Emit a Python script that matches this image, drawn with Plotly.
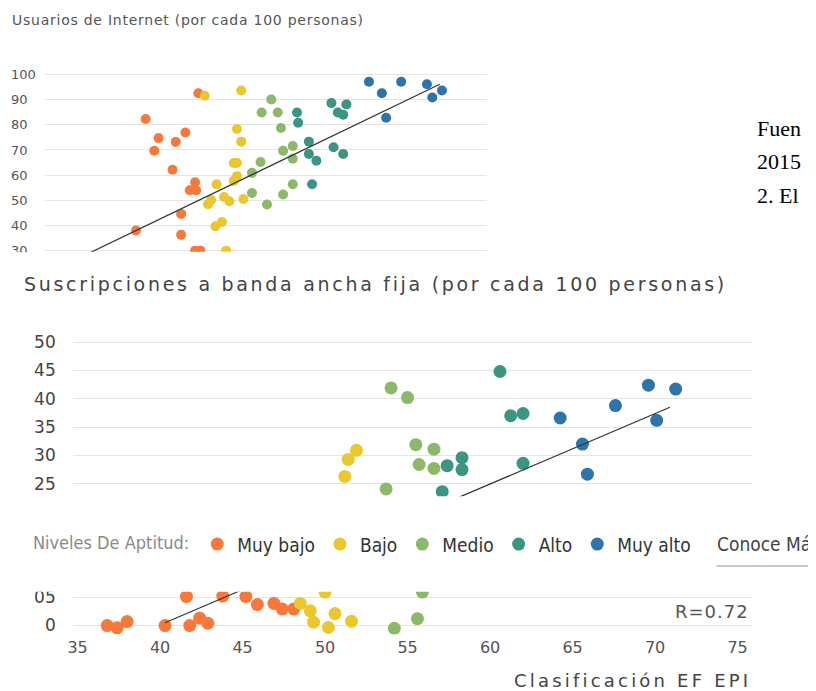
import plotly.graph_objects as go

# page is 816x691; the html body has an 8px margin, so the figure is 808x683
PAGE_W, PAGE_H = 816, 691
OFF = 8
W, H = PAGE_W - OFF, PAGE_H - OFF

levels = ["Muy bajo", "Bajo", "Medio", "Alto", "Muy alto"]
colors = ["#F7783B", "#EAC72E", "#8CB86A", "#3C9483", "#2D74AD"]

# ---- Chart 1: Usuarios de Internet (por cada 100 personas) ----
inet_muybajo_x = [49.0, 44.1, 45.3, 44.9, 46.9, 47.8, 46.6, 48.7, 48.2, 48.8, 47.4, 43.2, 47.4, 48.7, 49.2]
inet_muybajo_y = [92.5, 82.3, 74.7, 69.7, 73.2, 76.9, 62.1, 57.2, 54.0, 54.0, 44.6, 38.0, 36.3, 30.0, 30.0]
inet_bajo_x = [49.6, 53.0, 52.6, 53.0, 52.3, 52.6, 52.6, 52.3, 50.7, 50.2, 49.9, 51.4, 51.9, 53.2, 51.2, 50.6, 51.6]
inet_bajo_y = [91.5, 93.6, 78.3, 73.3, 64.8, 64.8, 59.6, 57.7, 56.4, 50.1, 48.4, 51.3, 49.6, 50.5, 41.4, 39.7, 30.0]
inet_medio_x = [55.8, 54.9, 56.4, 56.7, 56.9, 57.8, 57.8, 54.8, 54.0, 54.0, 57.8, 56.9, 55.4]
inet_medio_y = [90.0, 84.9, 84.9, 78.7, 69.7, 71.6, 66.5, 65.2, 60.9, 52.9, 56.4, 52.3, 48.3]
inet_alto_x = [58.2, 58.3, 61.4, 62.8, 62.0, 62.5, 59.3, 59.3, 60.0, 61.6, 62.5, 59.6]
inet_alto_y = [84.9, 80.8, 88.6, 88.1, 84.9, 84.0, 73.3, 68.4, 65.7, 71.1, 68.4, 56.4]
inet_muyalto_x = [64.9, 67.9, 70.3, 66.1, 70.8, 71.7, 66.5]
inet_muyalto_y = [97.1, 97.1, 96.1, 92.5, 90.8, 93.6, 82.8]
inet_trend_x = [36.0, 71.5]
inet_trend_y = [23.2, 96.1]
inet_ticks = [30, 40, 50, 60, 70, 80, 90, 100]

# ---- Chart 2: Suscripciones a banda ancha fija (por cada 100 personas) ----
bb_muybajo_x = [36.8, 37.4, 38.0, 40.3, 41.8, 42.4, 42.9, 41.6, 43.8, 45.2, 45.9, 46.9, 47.4, 48.1]
bb_muybajo_y = [0.0, -0.4, 0.7, 0.0, 0.0, 1.3, 0.4, 5.1, 5.2, 5.1, 3.7, 3.9, 2.9, 2.9]
bb_bajo_x = [48.5, 49.1, 49.3, 50.2, 50.6, 51.6, 50.0, 51.9, 51.4, 51.2]
bb_bajo_y = [3.9, 2.6, 0.6, -0.35, 2.1, 0.75, 5.9, 30.9, 29.3, 26.3]
bb_medio_x = [54.2, 55.6, 55.9, 54.0, 55.0, 55.5, 56.6, 55.7, 56.6, 53.7]
bb_medio_y = [-0.5, 1.2, 5.9, 41.9, 40.2, 31.9, 31.1, 28.4, 27.7, 24.1]
bb_alto_x = [60.6, 61.25, 62.0, 62.0, 58.3, 57.4, 58.3, 57.1]
bb_alto_y = [44.8, 37.0, 37.4, 28.6, 29.6, 28.2, 27.5, 23.6]
bb_muyalto_x = [64.25, 67.6, 69.6, 71.25, 70.1, 65.6, 65.9]
bb_muyalto_y = [36.6, 38.8, 42.4, 41.7, 36.2, 32.0, 26.7]
bb_trend_x = [40.3, 70.9]
bb_trend_y = [0.5, 38.5]
# only the tick labels that are not covered by the legend bar
bb_ytickvals = [0, 5, 25, 30, 35, 40, 45, 50]
bb_yticktext = ["0", "05", "25", "30", "35", "40", "45", "50"]
x_ticks = [35, 40, 45, 50, 55, 60, 65, 70, 75]

inet_series = [(inet_muybajo_x, inet_muybajo_y), (inet_bajo_x, inet_bajo_y), (inet_medio_x, inet_medio_y),
               (inet_alto_x, inet_alto_y), (inet_muyalto_x, inet_muyalto_y)]
bb_series = [(bb_muybajo_x, bb_muybajo_y), (bb_bajo_x, bb_bajo_y), (bb_medio_x, bb_medio_y),
             (bb_alto_x, bb_alto_y), (bb_muyalto_x, bb_muyalto_y)]


def px(x):
    """page pixel x -> paper coordinate"""
    return (x - OFF) / W


def py(y):
    """page pixel y -> paper coordinate"""
    return 1 - (y - OFF) / H


def spaced(text, sp):
    return '<span style="letter-spacing:%spx">%s</span>' % (sp, text)


SANS = "DejaVu Sans"
NARROW = "Liberation Sans Narrow, DejaVu Sans Condensed, Arial Narrow, sans-serif"
SERIF = "Liberation Serif, Times New Roman, serif"

fig = go.Figure()

for (xs, ys), name, c in zip(inet_series, levels, colors):
    fig.add_trace(go.Scatter(x=xs, y=ys, mode="markers", name=name, showlegend=False,
                             marker=dict(color=c, size=10), xaxis="x", yaxis="y"))
fig.add_trace(go.Scatter(x=inet_trend_x, y=inet_trend_y, mode="lines", showlegend=False,
                         line=dict(color="#333333", width=1.2), xaxis="x", yaxis="y"))

for (xs, ys), name, c in zip(bb_series, levels, colors):
    fig.add_trace(go.Scatter(x=xs, y=ys, mode="markers", name=name, showlegend=True,
                             marker=dict(color=c, size=13), xaxis="x2", yaxis="y2"))
fig.add_trace(go.Scatter(x=bb_trend_x, y=bb_trend_y, mode="lines", showlegend=False,
                         line=dict(color="#333333", width=1.2), xaxis="x2", yaxis="y2"))

# pixel geometry (page pixels)
top_plot_top, top_plot_bot = 62, 254
top_range = [100 - (top_plot_bot - 75) / 2.54, 100 - (top_plot_top - 75) / 2.54]
bb_plot_top, bb_plot_bot = 329, 640

shapes = [
    # occluders (page sections overlap the charts)
    dict(type="rect", xref="paper", yref="paper", x0=-0.05, x1=1.05, y0=py(274), y1=py(254.5),
         fillcolor="white", line=dict(width=0), layer="above"),
    dict(type="rect", xref="paper", yref="paper", x0=-0.05, x1=1.05, y0=py(597), y1=py(500.5),
         fillcolor="white", line=dict(width=0), layer="above"),
    # "Conoce Más" underline
    dict(type="line", xref="paper", yref="paper", x0=px(716), x1=1.05, y0=py(571), y1=py(571),
         line=dict(color="#b5b5b5", width=1.5), layer="above"),
]

annotations = [
    dict(text=spaced("Usuarios de Internet (por cada 100 personas)", 0.75), xref="paper", yref="paper",
         x=px(6), y=py(20), xanchor="left", yanchor="middle", showarrow=False, borderpad=0,
         font=dict(family=SANS, size=14, color="#555555")),
    dict(text=spaced("Suscripciones a banda ancha fija (por cada 100 personas)", 2.7), xref="paper",
         yref="paper", x=px(18), y=py(286), xanchor="left", yanchor="middle", showarrow=False, borderpad=0,
         font=dict(family=SANS, size=19, color="#444444")),
    dict(text="Fuen", xref="paper", yref="paper", x=px(755), y=py(130), xanchor="left", yanchor="middle",
         showarrow=False, font=dict(family=SERIF, size=22, color="#000000")),
    dict(text="2015", xref="paper", yref="paper", x=px(755), y=py(163), xanchor="left", yanchor="middle",
         showarrow=False, font=dict(family=SERIF, size=22, color="#000000")),
    dict(text="2. El", xref="paper", yref="paper", x=px(755), y=py(197), xanchor="left", yanchor="middle",
         showarrow=False, font=dict(family=SERIF, size=22, color="#000000")),
    dict(text="Conoce Más", xref="paper", yref="paper", x=px(714), y=py(549), xanchor="left", yanchor="middle",
         showarrow=False, font=dict(family=NARROW, size=19, color="#444444")),
    dict(text=spaced("R=0.72", 1), xref="paper", yref="paper", x=px(750), y=py(617), xanchor="right",
         yanchor="middle", showarrow=False, borderpad=0, font=dict(family=SANS, size=18, color="#555555")),
    dict(text=spaced("Clasificación EF EPI", 3.2), xref="paper", yref="paper", x=px(752), y=py(686),
         xanchor="right", yanchor="middle", showarrow=False, borderpad=0,
         font=dict(family=SANS, size=18, color="#444444")),
]

fig.update_layout(
    width=W, height=H, autosize=False,
    margin=dict(l=0, r=0, t=0, b=0),
    paper_bgcolor="white", plot_bgcolor="white",
    xaxis=dict(domain=[px(40), px(485)], range=[34.7, 75.9], visible=False, anchor="y"),
    yaxis=dict(domain=[py(top_plot_bot), py(top_plot_top)], range=top_range, anchor="free",
               position=px(12), side="left", ticklabelposition="inside", ticklabeloverflow="allow",
               ticklabelstandoff=-10,
               tickvals=inet_ticks, ticks="", showline=False, zeroline=False,
               showgrid=True, gridcolor="#e4e4e4", gridwidth=1,
               tickfont=dict(family=SANS, size=13, color="#555555")),
    xaxis2=dict(domain=[px(68), px(752)], range=[34.7, 75.9], anchor="y2", tickvals=x_ticks,
                showgrid=False, zeroline=False, showline=False, ticks="", ticklabelstandoff=2,
                tickfont=dict(family=SANS, size=16, color="#555555")),
    yaxis2=dict(domain=[py(bb_plot_bot), py(bb_plot_top)],
                range=[-(bb_plot_bot - 631) / 5.72, (631 - bb_plot_top) / 5.72],
                anchor="free", position=px(51), side="left",
                tickvals=bb_ytickvals, ticktext=bb_yticktext, showline=False, zeroline=False, ticks="",
                showgrid=True, gridcolor="#e4e4e4", gridwidth=1,
                tickfont=dict(family=SANS, size=17, color="#444444")),
    legend=dict(orientation="h", x=px(26), y=py(549), xanchor="left", yanchor="middle",
                bgcolor="rgba(0,0,0,0)", itemclick=False,
                title=dict(text="Niveles De Aptitud:", side="left",
                           font=dict(family=NARROW, size=18, color="#8a8a8a")),
                font=dict(family=NARROW, size=19, color="#333333")),
    shapes=shapes,
    annotations=annotations,
)

fig.write_html("out.html")
